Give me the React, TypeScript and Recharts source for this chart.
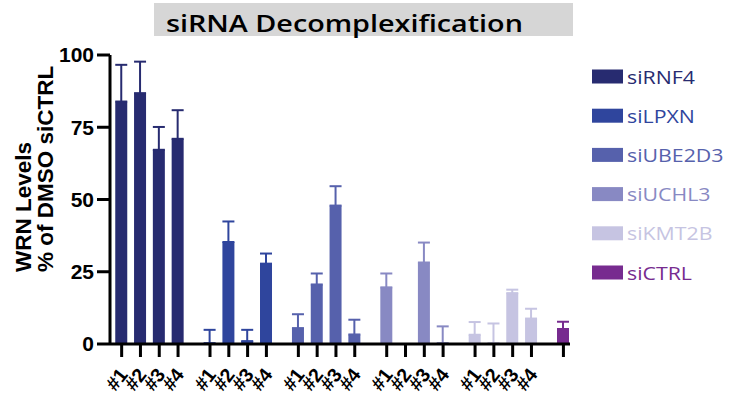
import React from "react";
import { BarChart, Bar, XAxis, YAxis, ErrorBar } from "recharts";

// knockdown groups and the four oligos per group
const groups = ["siRNF4", "siLPXN", "siUBE2D3", "siUCHL3", "siKMT2B", "siCTRL"];
const colors = ["#272b70", "#2f459d", "#5661ac", "#8889c3", "#c6c4e2", "#772b8f"];
const oligos = ["#1", "#2", "#3", "#4"];

// mean WRN level (% of DMSO siCTRL) and upper error per group
const rnf4 = [83.9, 86.8, 67.2, 71.0];
const rnf4Err = [12.7, 10.9, 7.9, 9.9];
const lpxn = [0.3, 35.3, 1.0, 27.8];
const lpxnErr = [4.6, 7.1, 3.9, 3.5];
const ube2d3 = [5.5, 20.6, 47.9, 3.3];
const ube2d3Err = [4.8, 3.8, 6.7, 5.1];
const uchl3 = [19.6, 0, 28.2, 0.3];
const uchl3Err = [4.8, 0, 6.9, 5.8];
const kmt2b = [3.2, 0.3, 17.6, 8.8];
const kmt2bErr = [4.4, 6.8, 1.2, 3.4];
const ctrl = [5.2];
const ctrlErr = [2.5];

const yTicks = [0, 25, 50, 75, 100];

const means = [rnf4, lpxn, ube2d3, uchl3, kmt2b, ctrl];
const errs = [rnf4Err, lpxnErr, ube2d3Err, uchl3Err, kmt2bErr, ctrlErr];

// slots between groups are a bit wider than between oligos
const GROUP_STEP = 4.7;

type Row = { pos: number; label: string; [k: string]: any };
const rows: Row[] = [];
means.forEach((vals, g) => {
  vals.forEach((v, i) => {
    const row: Row = { pos: g * GROUP_STEP + i, label: g === 5 ? "" : oligos[i] };
    row["v" + g] = v;
    row["e" + g] = [0, errs[g][i]];
    rows.push(row);
  });
});
const positions = rows.map((r) => r.pos);
const labelAt = (p: number) => rows.find((r) => Math.abs(r.pos - p) < 1e-6)?.label ?? "";

const AXIS_FONT = "Liberation Sans, Arial, sans-serif";
const CHART_H = 398;
const MARGIN_BOTTOM = 8;
const XAXIS_H = 46;
const AXIS_Y = CHART_H - MARGIN_BOTTOM - XAXIS_H; // where the x axis line sits

const XTick = (props: any) => {
  const { x, payload } = props;
  return (
    <g>
      <rect x={x - 1.5} y={AXIS_Y} width={3} height={13} fill="#000" />
      <text
        transform={`translate(${x + 7},${AXIS_Y + 31}) rotate(-52)`}
        textAnchor="end"
        fontFamily={AXIS_FONT}
        fontWeight={700}
        fontSize={19.5}
        fill="#000"
      >
        {labelAt(payload.value)}
      </text>
    </g>
  );
};

export default function App() {
  return (
    <div style={{ position: "absolute", left: 0, top: 0, width: 736, height: CHART_H, background: "#fff" }}>
      <BarChart
        width={736}
        height={CHART_H}
        data={rows}
        margin={{ top: 55, right: 166, left: 70, bottom: MARGIN_BOTTOM }}
        style={{ position: "absolute", left: 0, top: 0 }}
      >
        <XAxis
          type="number"
          dataKey="pos"
          domain={[-0.62, 23.85]}
          allowDataOverflow
          ticks={positions}
          interval={0}
          height={XAXIS_H}
          axisLine={{ stroke: "#000", strokeWidth: 3 }}
          tickLine={false}
          tick={<XTick />}
        />
        <YAxis
          domain={[0, 100]}
          ticks={yTicks}
          width={40}
          axisLine={{ stroke: "#000", strokeWidth: 3 }}
          tickLine={{ stroke: "#000", strokeWidth: 3 }}
          tickSize={13}
          tickMargin={3}
          tick={{ fill: "#000", fontSize: 21, fontWeight: 700, fontFamily: AXIS_FONT }}
          label={{
            content: () => (
              <g fontFamily={AXIS_FONT} fontWeight={700} fontSize={22.5} fill="#000">
                <text transform="translate(31,272) rotate(-90)">WRN Levels</text>
                <text transform="translate(53,272) rotate(-90)">% of DMSO siCTRL</text>
              </g>
            ),
          }}
        />
        {groups.map((g, gi) => (
          <Bar
            key={g}
            dataKey={"v" + gi}
            stackId="a"
            fill={colors[gi]}
            barSize={12}
            isAnimationActive={false}
          >
            <ErrorBar dataKey={"e" + gi} direction="y" width={6} strokeWidth={2} stroke={colors[gi]} />
          </Bar>
        ))}
      </BarChart>

      <svg width={736} height={CHART_H} style={{ position: "absolute", left: 0, top: 0, pointerEvents: "none" }}>
        <rect x={154} y={3} width={419} height={33} fill="#d6d6d6" />
        <text
          transform="translate(166,32) scale(1.25,1)"
          fontFamily="Open Sans, sans-serif"
          fontWeight={600}
          fontSize={23}
          fill="#000"
        >
          siRNA Decomplexification
        </text>
        {groups.map((g, gi) => {
          const cy = 76.5 + gi * 39.2;
          return (
            <g key={g}>
              <rect x={592} y={cy - 7} width={31} height={14} fill={colors[gi]} />
              <text
                transform={`translate(627,${cy + 7}) scale(1.14,1)`}
                fontFamily="Open Sans, sans-serif"
                fontSize={18.7}
                fill={colors[gi]}
              >
                {g}
              </text>
            </g>
          );
        })}
      </svg>
    </div>
  );
}
